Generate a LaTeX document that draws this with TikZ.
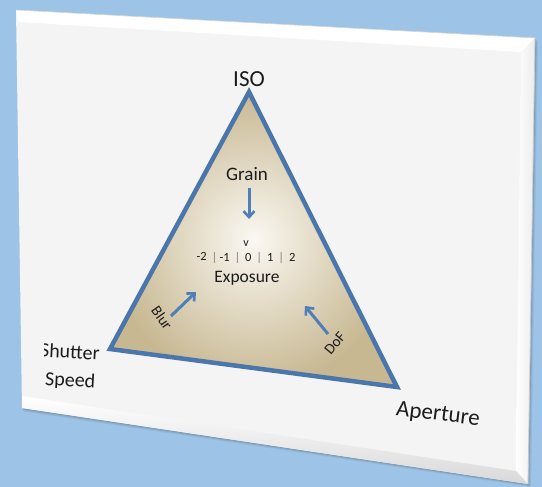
\documentclass[tikz,border=0pt]{standalone}
\usepackage{fontspec}
\setmainfont{Carlito}
\usetikzlibrary{arrows.meta}
\definecolor{bgblue}{HTML}{9DC3E6}
\definecolor{edgeblue}{HTML}{4A76AB}
\definecolor{arrblue}{HTML}{4F7FB8}
\definecolor{tanc}{HTML}{C8B892}
\definecolor{cream}{HTML}{FAF8F2}
\definecolor{cardgray}{HTML}{F4F4F4}
\definecolor{txt}{HTML}{1C1C1C}
\tikzset{
  lbl/.style={text=txt, inner sep=0pt},
  arr/.style={arrblue, line width=3pt, -{Straight Barb[length=6pt,width=11pt,line width=2.6pt]}},
}
\newcommand{\fsz}[1]{\fontsize{#1}{#1}\selectfont}
\begin{document}
\begin{tikzpicture}[x=1pt,y=-1pt]
\useasboundingbox (0,0) rectangle (542,487);
\fill[bgblue] (0,0) rectangle (542,487);
% card shadow
\foreach \d/\o in {6/0.05,4/0.07,2/0.09}{
  \fill[black,opacity=\o] (16+\d*0.3,10+\d*0.6) -- (535+\d*0.5,38+\d*0.6) -- (528+\d*0.5,484+\d*0.5) -- (22+\d*0.3,408+\d*0.6) -- cycle;
}
% card
\coordinate (c1) at (16,10);
\coordinate (c2) at (535,38);
\coordinate (c3) at (528,484);
\coordinate (c4) at (22,408);
\fill[cardgray] (c1) -- (c2) -- (c3) -- (c4) -- cycle;
% bevels
\fill[white] (c1) -- (c2) -- (521,52) -- (18,22) -- cycle;
\shade[left color=white, right color=gray!15] (c2) -- (c3) -- (516,471) -- (521,52) -- cycle;
\shade[top color=white, bottom color=gray!30] (c4) -- (c3) -- (516,471) -- (22,396) -- cycle;
\draw[gray!45, line width=0.8pt] (c2) -- (c3);
\draw[gray!35, line width=0.6pt] (c1) -- (c2);
% triangle
\coordinate (iso) at (249,92);
\coordinate (ss) at (110,349);
\coordinate (ap) at (397,387);
\shade[inner color=cream, outer color=tanc] (iso) -- (ss) -- (ap) -- cycle;
\draw[edgeblue, line width=4.5pt, line join=miter] (iso) -- (ss) -- (ap) -- cycle;
% labels
\node[lbl, font=\fsz{23}] (isol) at (249,79) {ISO};
\node[lbl, font=\fsz{19}] (grain) at (247,174) {Grain};
\node[lbl, font=\fsz{12}] (vmark) at (246,244) {v};
\node[lbl, font=\fsz{12.5}] (scale) at (246,258) {\raisebox{1.5pt}{-2}\, {\color{gray}|}\,-1\, {\color{gray}|}\, 0\, {\color{gray}|}\, 1\, {\color{gray}|}\, 2};
\node[lbl, font=\fsz{17.5}] (expo) at (247,278) {Exposure};
\node[lbl, font=\fsz{15}, rotate=-55] (blur) at (162,318) {Blur};
\node[lbl, font=\fsz{15}, rotate=50] (dof) at (335,343) {DoF};
\begin{scope}
\clip (44,330) rectangle (110,387);
\node[lbl, font=\fsz{20}, anchor=west, rotate=-3] (shut) at (40,350) {Shutter};
\node[lbl, font=\fsz{20}, anchor=west, rotate=-3] (speed) at (45,380) {Speed};
\end{scope}
\node[lbl, font=\fsz{23}, rotate=-7] (aper) at (438,415) {Aperture};
% arrows
\coordinate (g1) at (249,188);
\coordinate (g2) at (249,219);
\coordinate (b1) at (171,316);
\coordinate (b2) at (196,292);
\coordinate (d1) at (328,334);
\coordinate (d2) at (305,306);
\draw[arr] (g1) -- (g2);
\draw[arr] (b1) -- (b2);
\draw[arr] (d1) -- (d2);
\end{tikzpicture}
\end{document}
